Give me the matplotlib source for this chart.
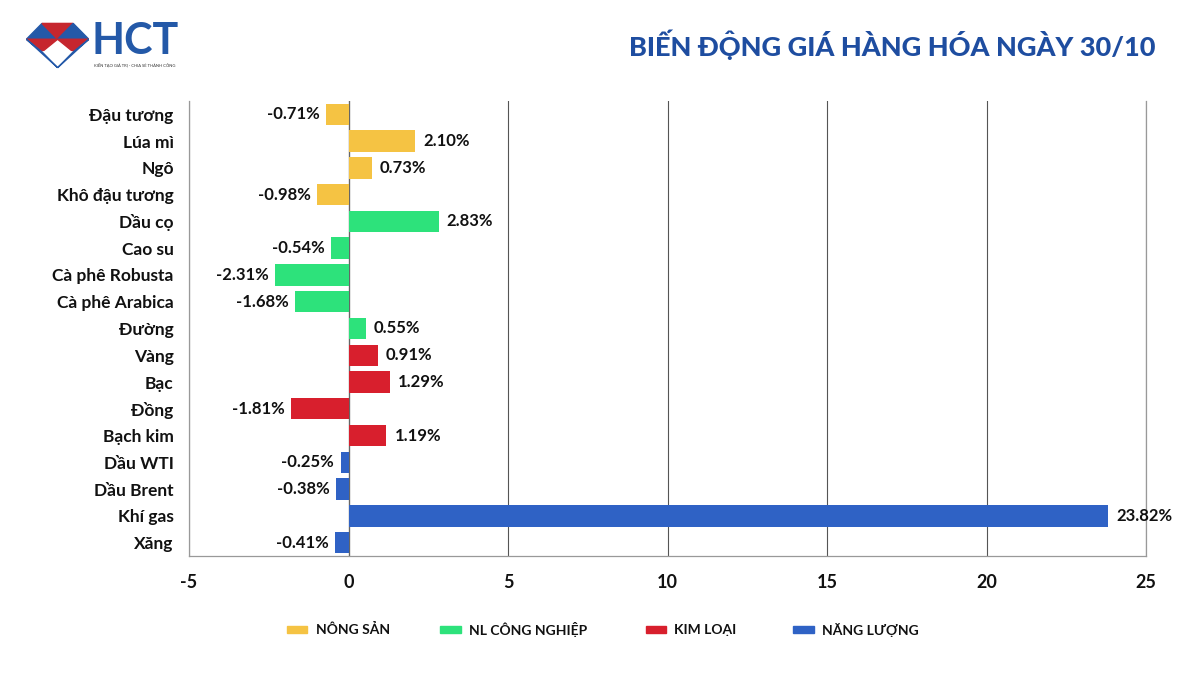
import matplotlib.pyplot as plt
from matplotlib.patches import Polygon, Rectangle
import numpy as np

plt.rcParams['font.family'] = ['Lato', 'DejaVu Sans']

items = ['Đậu tương', 'Lúa mì', 'Ngô', 'Khô đậu tương', 'Dầu cọ', 'Cao su',
         'Cà phê Robusta', 'Cà phê Arabica', 'Đường', 'Vàng', 'Bạc', 'Đồng',
         'Bạch kim', 'Dầu WTI', 'Dầu Brent', 'Khí gas', 'Xăng']
changes = [-0.71, 2.10, 0.73, -0.98, 2.83, -0.54, -2.31, -1.68, 0.55,
           0.91, 1.29, -1.81, 1.19, -0.25, -0.38, 23.82, -0.41]
groups = [0, 0, 0, 0, 1, 1, 1, 1, 1, 2, 2, 2, 2, 3, 3, 3, 3]
group_names = ['NÔNG SẢN', 'NL CÔNG NGHIỆP', 'KIM LOẠI', 'NĂNG LƯỢNG']
group_colors = ['#F5C343', '#2DE27B', '#D81F2D', '#2F62C5']

fig = plt.figure(figsize=(12, 6.75), dpi=100)
ax = fig.add_axes([0.1575, 0.1763, 0.7975, 0.6741])

y = np.arange(len(items))
cols = [group_colors[g] for g in groups]
ax.barh(y, changes, height=0.8, color=cols, zorder=3)

for yi, v in zip(y, changes):
    txt = f'{v:.2f}%'
    if v < 0:
        ax.text(v - 0.2, yi, txt, ha='right', va='center', fontsize=12,
                fontweight='bold', color='#111111', zorder=4)
    else:
        ax.text(v + 0.25, yi, txt, ha='left', va='center', fontsize=12,
                fontweight='bold', color='#111111', zorder=4)

ax.set_yticks(y)
ax.set_yticklabels(items, fontsize=12.5, fontweight='bold', color='#111111')
ax.set_ylim(len(items) - 0.5, -0.5)
ax.set_xlim(-5, 25)
ax.set_xticks([-5, 0, 5, 10, 15, 20, 25])
ax.set_xticklabels(['-5', '0', '5', '10', '15', '20', '25'],
                   fontsize=13, fontweight='bold', color='#111111')
ax.tick_params(axis='both', length=0)
ax.tick_params(axis='x', pad=13)
ax.tick_params(axis='y', pad=11)
ax.grid(axis='x', color='#555555', linewidth=0.8, zorder=0)
ax.axvline(0, color='#666666', linewidth=0.9, zorder=2)
ax.spines['top'].set_visible(False)
for s in ['left', 'right', 'bottom']:
    ax.spines[s].set_color('#999999')
    ax.spines[s].set_linewidth(0.9)

# legend, drawn by hand to keep the reference spacing
leg_x = [0.239, 0.367, 0.538, 0.661]
for lx, name, c in zip(leg_x, group_names, group_colors):
    fig.patches.append(Rectangle((lx, 0.062), 0.017, 0.011, color=c,
                                 transform=fig.transFigure, figure=fig))
    fig.text(lx + 0.024, 0.067, name, ha='left', va='center', fontsize=10,
             fontweight='bold', color='#111111')

# title
fig.text(0.963, 0.933, 'BIẾN ĐỘNG GIÁ HÀNG HÓA NGÀY 30/10', ha='right', va='center',
         fontsize=19.5, fontweight='black', color='#1E4DA0')

# logo
lax = fig.add_axes([0.022, 0.895, 0.052, 0.075])
lax.set_xlim(0, 10)
lax.set_ylim(0, 8)
lax.axis('off')
red = '#C6262E'
blue = '#2459A8'
lax.add_patch(Polygon([[0, 5], [2.5, 7.5], [5, 5]], color=blue))
lax.add_patch(Polygon([[2.5, 7.5], [7.5, 7.5], [5, 5]], color=red))
lax.add_patch(Polygon([[5, 5], [7.5, 7.5], [10, 5]], color=blue))
lax.add_patch(Polygon([[0, 5], [5, 5], [2.5, 3]], color=red))
lax.add_patch(Polygon([[5, 5], [10, 5], [7.5, 3]], color=red))
lax.add_patch(Polygon([[2.5, 3], [7.5, 3], [5, 0.5]], color='white'))
lax.add_patch(Polygon([[0, 5], [2.5, 3], [5, 0.5]], color=blue))
lax.add_patch(Polygon([[10, 5], [7.5, 3], [5, 0.5]], color=blue))
fig.text(0.076, 0.94, 'HCT', ha='left', va='center', fontsize=31,
         fontweight='bold', color=blue)
fig.text(0.078, 0.903, 'KIẾN TẠO GIÁ TRỊ - CHIA SẺ THÀNH CÔNG', ha='left', va='center',
         fontsize=3, color='#333333')

fig.savefig('out.png', dpi=100)
